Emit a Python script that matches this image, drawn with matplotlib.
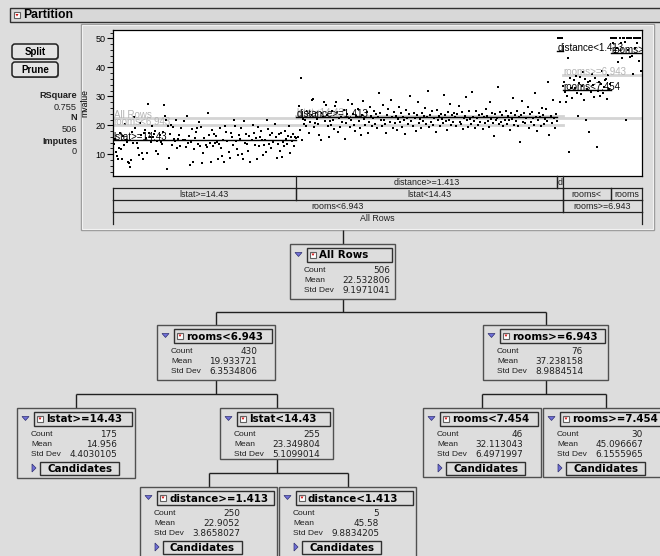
import matplotlib.pyplot as plt
from matplotlib.patches import Rectangle, FancyBboxPatch, Polygon
from matplotlib.ticker import MultipleLocator

plt.rcParams['font.family'] = ['Liberation Sans', 'DejaVu Sans']

W, H = 660, 556
BG = '#dddddd'
EDGE = '#505050'

# partition tree: nodes, parent links, stats
node_names = ['All Rows', 'rooms<6.943', 'rooms>=6.943', 'lstat>=14.43', 'lstat<14.43',
              'rooms<7.454', 'rooms>=7.454', 'distance>=1.413', 'distance<1.413']
node_parent = [None, 0, 0, 1, 1, 2, 2, 4, 4]
node_counts = [506, 430, 76, 175, 255, 46, 30, 250, 5]
node_means = [22.532806, 19.933721, 37.238158, 14.956, 23.349804, 32.113043, 45.096667, 22.9052, 45.58]
node_sds = ['9.1971041', '6.3534806', '8.9884514', '4.4030105', '5.1099014',
            '6.4971997', '6.1555965', '3.8658027', '9.8834205']

# mvalue per leaf, in row order
mv_lstat_hi = [
    13.5, 15.2, 10.8, 9.4, 8.3, 12.1, 17.5, 11.9, 8.4, 16.2, 13.1, 20.4, 15.0, 14.4, 7.2, 7.0, 5.6, 8.1, 17.6, 13.8, 22.7, 19.1, 13.9, 12.0, 9.7,
    20.8, 16.8, 10.4, 8.3, 17.2, 18.4, 15.6, 10.5, 27.5, 17.4, 16.1, 14.3, 19.6, 16.0, 17.0, 18.2, 11.2, 14.5, 10.2, 16.6, 14.1, 13.4, 17.8, 27.1, 23.2,
    21.7, 5.0, 19.9, 8.8, 17.1, 20.0, 13.3, 19.4, 15.2, 14.6, 21.9, 12.3, 15.4, 16.7, 13.0, 19.1, 15.0, 21.4, 14.9, 12.6, 23.1, 13.8, 16.3, 6.3, 14.1,
    18.6, 7.2, 11.7, 15.7, 17.8, 18.9, 13.6, 21.2, 12.7, 19.3, 6.9, 10.5, 15.6, 13.3, 12.5, 24.4, 16.6, 14.0, 7.2, 18.5, 12.8, 17.1, 13.9, 16.4, 14.3,
    8.5, 13.4, 19.0, 12.1, 9.5, 15.1, 7.4, 19.8, 17.7, 14.6, 10.9, 8.8, 17.3, 16.0, 13.1, 22.0, 19.6, 14.5, 11.9, 9.6, 16.8, 15.3, 18.9, 10.2, 8.4,
    21.4, 13.8, 17.0, 13.5, 11.0, 16.2, 7.5, 14.9, 20.1, 17.4, 13.2, 15.6, 8.3, 19.5, 12.7, 16.1, 17.9, 14.8, 9.6, 13.1, 15.0, 10.8, 21.7, 18.8, 13.4,
    16.5, 12.0, 17.2, 14.1, 20.3, 15.8, 8.7, 13.6, 16.9, 11.3, 17.5, 9.0, 14.4, 12.8, 18.2, 15.4, 13.7, 16.3, 19.9, 10.6, 15.9, 14.7, 17.1, 13.0, 16.0,
]
mv_dist_hi = [
    15.6, 16.1, 26.7, 18.4, 36.2, 14.8, 22.1, 20.5, 21.7, 19.6, 24.8, 24.4, 17.5, 21.0, 23.4, 28.7, 29.1, 19.4, 20.9, 24.3, 22.2, 20.6, 16.8, 15.0, 24.1,
    22.9, 28.2, 21.6, 27.0, 23.5, 19.9, 16.1, 21.4, 20.1, 24.9, 22.0, 18.7, 26.6, 28.1, 24.5, 17.8, 22.4, 19.3, 23.0, 21.1, 25.3, 15.4, 20.8, 23.9, 28.6,
    22.6, 19.5, 21.9, 27.5, 24.0, 20.2, 18.1, 23.3, 22.8, 25.6, 21.5, 19.0, 16.7, 23.7, 28.4, 22.3, 20.0, 24.6, 17.4, 21.2, 26.2, 23.1, 19.8, 22.5, 25.0,
    20.4, 23.8, 18.9, 22.7, 31.0, 24.2, 21.8, 19.7, 26.9, 22.0, 20.6, 17.2, 23.6, 25.8, 21.3, 28.8, 22.9, 19.2, 24.7, 20.7, 23.2, 18.5, 22.1, 26.4, 21.0,
    24.3, 19.4, 23.0, 21.7, 17.0, 25.2, 22.4, 20.3, 23.9, 30.1, 21.4, 19.6, 24.1, 22.6, 18.2, 23.5, 27.9, 20.9, 22.2, 19.1, 24.4, 21.6, 23.3, 26.0, 20.5,
    22.8, 31.7, 19.3, 23.6, 21.1, 24.8, 20.0, 22.5, 17.6, 25.4, 21.9, 23.1, 19.7, 24.0, 22.3, 20.8, 30.5, 23.7, 21.5, 18.4, 24.6, 22.0, 27.3, 20.2, 23.4,
    21.2, 24.2, 22.7, 19.9, 23.8, 26.7, 21.0, 20.6, 24.5, 18.8, 22.4, 23.2, 29.6, 21.8, 19.5, 24.9, 22.1, 20.4, 31.5, 23.0, 21.4, 19.0, 25.1, 22.6, 20.1,
    23.6, 21.3, 24.0, 18.6, 22.9, 20.7, 25.7, 23.3, 21.6, 19.4, 28.0, 22.2, 24.3, 20.9, 16.2, 23.9, 21.7, 22.5, 33.2, 20.3, 24.7, 21.1, 23.5, 19.8, 22.0,
    25.0, 20.5, 23.1, 21.9, 18.3, 24.4, 22.3, 29.4, 20.0, 23.7, 21.5, 24.8, 19.6, 22.8, 14.4, 23.4, 28.5, 21.0, 24.1, 20.8, 22.6, 26.3, 19.2, 23.8, 21.2,
    24.6, 22.4, 20.2, 31.1, 23.0, 17.9, 21.8, 24.2, 22.7, 19.7, 26.1, 23.6, 20.6, 22.1, 25.5, 21.4, 34.9, 16.5, 23.2, 20.9, 28.7, 22.5, 19.1, 24.0, 21.6,
]
mv_dist_lo = [50.0, 50.0, 27.9, 50.0, 50.0]
mv_rooms_mid = [
    33.4, 35.1, 31.5, 28.0, 30.2, 43.1, 10.9, 36.4, 32.8, 29.5, 35.6, 33.0, 37.0, 31.2, 23.3, 34.5,
    36.8, 30.7, 33.7, 38.5, 28.6, 36.0, 21.7, 32.4, 34.8, 17.8, 35.3, 31.6, 37.6, 33.9, 29.9, 36.3,
    12.6, 32.0, 35.0, 30.1, 34.2, 38.9, 31.0, 33.1, 35.8, 36.1, 29.1, 37.3, 32.5, 34.1,
]
mv_rooms_hi = [
    50.0, 50.0, 48.3, 50.0, 44.8, 50.0, 46.7, 41.7, 50.0, 48.5, 43.1, 50.0, 50.0, 48.8, 22.0,
    50.0, 46.0, 50.0, 43.5, 50.0, 44.0, 37.6, 50.0, 46.7, 50.0, 48.3, 50.0, 42.3, 50.0, 38.7,
]
leaf_values = {3: mv_lstat_hi, 7: mv_dist_hi, 8: mv_dist_lo, 5: mv_rooms_mid, 6: mv_rooms_hi}

# layout of the node boxes (pixels: left, top, right, bottom)
node_boxes = [(290, 244, 395, 299), (157, 325, 275, 380), (483, 325, 608, 380),
              (17, 408, 135, 478), (220, 408, 333, 459), (423, 408, 541, 477),
              (543, 408, 668, 477), (140, 487, 277, 570), (279, 487, 416, 570)]

children = {i: [j for j, p in enumerate(node_parent) if p == i] for i in range(len(node_names))}
depth, start = [0] * len(node_names), [0] * len(node_names)
for i, p in enumerate(node_parent):
    if p is not None:
        depth[i] = depth[p] + 1
        sib = children[p]
        start[i] = start[p] + sum(node_counts[s] for s in sib[:sib.index(i)])

fig = plt.figure(figsize=(W / 100, H / 100), dpi=100, facecolor=BG)
ui = fig.add_axes([0, 0, 1, 1])
ui.set_xlim(0, W)
ui.set_ylim(H, 0)
ui.axis('off')


def rect(x0, y0, x1, y1, fc='none', ec=EDGE, lw=1, z=1):
    ui.add_patch(Rectangle((x0, y0), x1 - x0, y1 - y0, fc=fc, ec=ec, lw=lw, zorder=z))


def line(xs, ys, c='#202020', lw=1):
    ui.plot(xs, ys, color=c, lw=lw, solid_capstyle='butt', zorder=2)


def red_icon(x, y):
    rect(x, y, x + 6, y + 6, fc='white', ec='#606060', lw=0.8, z=4)
    ui.add_patch(Polygon([(x + 1.5, y + 2), (x + 4.5, y + 2), (x + 3, y + 4.5)], fc='#d01010', ec='none', zorder=5))


# title bar
rect(10, 8, 670, 22, fc='#d8d8d8', ec='#303030')
red_icon(14, 12)
ui.text(23, 15.5, 'Partition', fontsize=8.8, fontweight='bold', va='center')

# Split / Prune buttons and fit summary
for label, y0 in [('Split', 44), ('Prune', 62)]:
    ui.add_patch(FancyBboxPatch((13, y0 + 1), 46, 15, boxstyle='round,pad=0,rounding_size=3',
                                fc='#808080', ec='none', zorder=2))
    ui.add_patch(FancyBboxPatch((12, y0), 46, 15, boxstyle='round,pad=0,rounding_size=3',
                                fc='#e4e4e4', ec='#202020', lw=1.1, zorder=3))
    ui.text(35, y0 + 8, label, fontsize=7, fontweight='bold', ha='center', va='center', zorder=4)
for label, y, bold in [('RSquare', 96, True), ('0.755', 107, False), ('N', 118, True),
                       ('506', 129, False), ('Imputes', 141, True), ('0', 152, False)]:
    ui.text(77, y, label, fontsize=6.6, fontweight='bold' if bold else 'normal',
            ha='right', va='center', color='#202020')

# plot panel frame
rect(81, 24, 654, 230, ec='#9a9a9a')
rect(82, 25, 653, 229, ec='#f2f2f2', lw=0.8)

# scatter of mvalue by row, ordered by leaf
ax = fig.add_axes([113 / W, 1 - 176 / H, (642 - 113) / W, (176 - 30) / H])
ax.set_facecolor('white')
ax.set_xlim(0, node_counts[0])
ax.set_ylim(2.5, 52.9)
for i in range(len(node_names)):
    if children[i]:
        ax.plot([start[i], start[i] + node_counts[i]], [node_means[i]] * 2, color='#d4d4d4', lw=2, zorder=1)
for i, vals in leaf_values.items():
    xs = [start[i] + k + 0.5 for k in range(len(vals))]
    ax.scatter(xs, vals, s=3.2, marker='s', c='black', linewidths=0, zorder=2)
for i in range(len(node_names)):
    leaf = not children[i]
    col = '#000000' if leaf else '#b4b4b4'
    if leaf:
        ax.plot([start[i], start[i] + node_counts[i]], [node_means[i]] * 2, color='black', lw=1, zorder=3)
    ax.text(start[i] + 0.5, node_means[i], node_names[i], fontsize=7, color=col,
            va='baseline', ha='left', clip_on=True, zorder=4)
ax.set_xticks([])
ax.yaxis.set_major_locator(MultipleLocator(10))
ax.yaxis.set_minor_locator(MultipleLocator(2))
ax.tick_params(axis='y', which='major', direction='out', length=4, width=0.8, labelsize=6.5, pad=1.5)
ax.tick_params(axis='y', which='minor', direction='out', length=2, width=0.6)
ax.set_ylabel('mvalue', fontsize=6.2)
ax.yaxis.set_label_coords(-0.044, 0.5)
for s in ax.spines.values():
    s.set_linewidth(0.9)

# partition table under the scatter, one row per tree depth
tb = fig.add_axes([113 / W, 1 - 224 / H, (642 - 113) / W, 48 / H])
tb.set_xlim(0, node_counts[0])
tb.set_ylim(48, 0)
tb.axis('off')
renderer = fig.canvas.get_renderer()
max_depth = max(depth)
for y in (12, 24, 36):
    tb.plot([0, node_counts[0]], [y, y], color='#202020', lw=0.9, clip_on=False)
for i in range(len(node_names)):
    r = max_depth - depth[i]
    y0, y1 = r * 12, r * 12 + 12
    x0, x1 = start[i], start[i] + node_counts[i]
    for xv in (x0, x1):
        tb.plot([xv, xv], [y0, y1], color='#202020', lw=0.9, clip_on=False)
    cell_px = tb.transData.transform((x1, 0))[0] - tb.transData.transform((x0, 0))[0]
    txt = node_names[i]
    t = tb.text((x0 + x1) / 2, (y0 + y1) / 2 + 0.5, txt, fontsize=6.4, ha='center', va='center',
                color='#202020', clip_on=False)
    if t.get_window_extent(renderer).width > cell_px - 2:
        # too narrow: keep the variable name and the first comparison sign
        cut = min(k for k, ch in enumerate(txt) if ch in '<>') + 1
        txt = txt[:cut]
        t.set_text(txt)
    while len(txt) > 1 and t.get_window_extent(renderer).width > cell_px - 2:
        txt = txt[:-1]
        t.set_text(txt)

# tree diagram
line([343, 343], [230, 244])
for p, kids in children.items():
    if not kids:
        continue
    px0, _, px1, pby = node_boxes[p]
    cy = node_boxes[kids[0]][1]
    mid = (pby + cy) / 2
    line([(px0 + px1) / 2] * 2, [pby, mid])
    cxs = [(node_boxes[k][0] + node_boxes[k][2]) / 2 for k in kids]
    line([min(cxs), max(cxs)], [mid, mid])
    for cx in cxs:
        line([cx, cx], [mid, cy])

for i, (x0, y0, x1, y1) in enumerate(node_boxes):
    rect(x0, y0, x1, y1, fc=BG, ec=EDGE, lw=1, z=3)
    ui.add_patch(Polygon([(x0 + 5, y0 + 8.5), (x0 + 12, y0 + 8.5), (x0 + 8.5, y0 + 12.5)],
                         fc='#7070d8', ec='#303070', lw=0.5, zorder=4))
    rect(x0 + 17, y0 + 4, x1 - 3, y0 + 18, fc=BG, ec='#303030', lw=1, z=4)
    red_icon(x0 + 20, y0 + 7.5)
    ui.text(x0 + 29, y0 + 11.5, node_names[i], fontsize=7.4, fontweight='bold',
            family=['DejaVu Sans'], va='center', zorder=5)
    for k, (lab, val) in enumerate([('Count', str(node_counts[i])), ('Mean', str(node_means[i])),
                                    ('Std Dev', node_sds[i])]):
        yy = y0 + 26.5 + 10 * k
        ui.text(x0 + 14, yy, lab, fontsize=6, va='center', zorder=5, color='#202020')
        ui.text(x0 + 100, yy, val, fontsize=6.4, family=['DejaVu Sans'], ha='right', va='center',
                zorder=5, color='#202020')
    if not children[i]:
        rect(x0 + 23, y0 + 54, x0 + 102, y0 + 67, fc=BG, ec='#303030', lw=1, z=4)
        ui.add_patch(Polygon([(x0 + 15, y0 + 56), (x0 + 15, y0 + 64), (x0 + 19, y0 + 60)],
                             fc='#7070d8', ec='#303070', lw=0.5, zorder=4))
        ui.text(x0 + 62.5, y0 + 61, 'Candidates', fontsize=7.4, fontweight='bold',
                family=['DejaVu Sans'], ha='center', va='center', zorder=5)

fig.savefig('out.png', dpi=100, facecolor=BG)
